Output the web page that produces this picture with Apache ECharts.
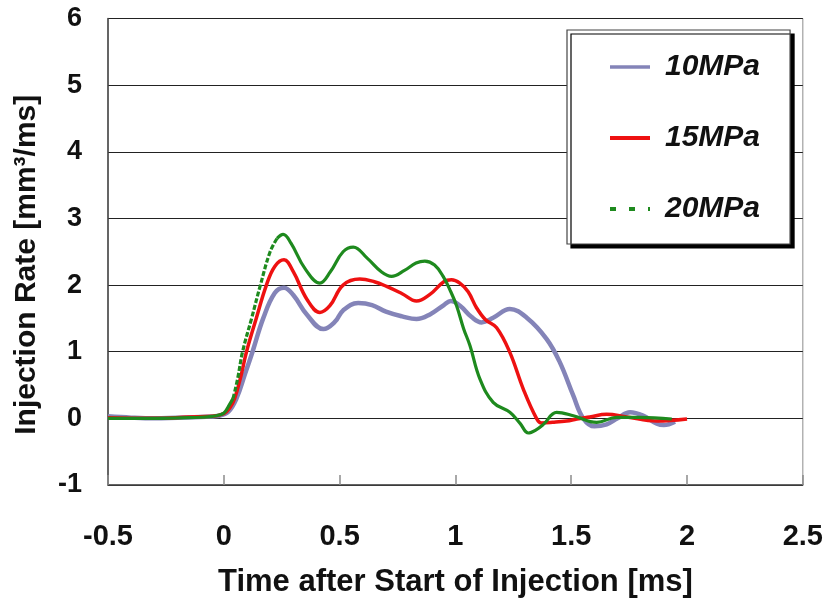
<!DOCTYPE html>
<html>
<head>
<meta charset="utf-8">
<script src="https://cdn.jsdelivr.net/npm/echarts@6/dist/echarts.min.js"></script>
<style>html,body{margin:0;padding:0;background:#fff}#c{width:826px;height:604px}</style>
</head>
<body>
<div id="c"></div>
<script>
var seriesNames = ['10MPa', '15MPa', '20MPa'];
var xTicks = [-0.5, 0, 0.5, 1, 1.5, 2, 2.5];
var yTicks = [-1, 0, 1, 2, 3, 4, 5, 6];

var data10 = [[-0.5,0.03],[-0.4,0.01],[-0.3,0.0],[-0.2,0.01],[-0.1,0.02],[-0.02,0.04],[0.02,0.1],[0.055,0.3],[0.09,0.65],[0.124,1.0],[0.17,1.5],[0.22,1.88],[0.26,1.96],[0.3,1.85],[0.36,1.55],[0.43,1.34],[0.48,1.45],[0.515,1.62],[0.58,1.73],[0.64,1.70],[0.7,1.60],[0.77,1.53],[0.832,1.49],[0.89,1.56],[0.95,1.70],[0.98,1.76],[1.02,1.69],[1.07,1.52],[1.113,1.44],[1.163,1.51],[1.235,1.64],[1.308,1.51],[1.394,1.19],[1.451,0.84],[1.509,0.34],[1.552,0.0],[1.6,-0.12],[1.653,-0.09],[1.7,0.0],[1.754,0.09],[1.81,0.04],[1.87,-0.08],[1.9,-0.1],[1.948,-0.05]];

var data15 = [[-0.5,0.01],[-0.3,0.0],[-0.15,0.02],[-0.05,0.03],[0.0,0.07],[0.025,0.15],[0.047,0.3],[0.075,0.65],[0.098,1.0],[0.14,1.5],[0.184,2.0],[0.22,2.28],[0.26,2.38],[0.3,2.2],[0.36,1.78],[0.415,1.59],[0.458,1.69],[0.515,2.0],[0.587,2.09],[0.65,2.05],[0.703,1.98],[0.77,1.87],[0.832,1.76],[0.89,1.86],[0.95,2.05],[0.983,2.08],[1.019,2.03],[1.055,1.9],[1.091,1.66],[1.13,1.48],[1.178,1.36],[1.235,0.99],[1.293,0.44],[1.35,0.0],[1.372,-0.07],[1.42,-0.06],[1.48,-0.04],[1.524,-0.01],[1.58,0.02],[1.653,0.06],[1.74,0.02],[1.869,-0.04],[2.0,-0.01]];

var data20 = [[-0.5,0.0],[-0.3,0.0],[-0.15,0.01],[-0.05,0.03],[0.0,0.08],[0.02,0.18],[0.04,0.3],[0.06,0.6],[0.081,1.0],[0.12,1.5],[0.158,2.0],[0.2,2.5],[0.23,2.7],[0.256,2.76],[0.29,2.63],[0.35,2.25],[0.415,2.03],[0.46,2.2],[0.515,2.5],[0.559,2.57],[0.62,2.4],[0.68,2.2],[0.724,2.13],[0.78,2.22],[0.83,2.33],[0.868,2.36],[0.91,2.3],[0.947,2.13],[0.98,1.9],[1.005,1.69],[1.035,1.35],[1.063,1.09],[1.106,0.59],[1.163,0.24],[1.235,0.09],[1.28,-0.08],[1.315,-0.22],[1.345,-0.18],[1.38,-0.09],[1.437,0.09],[1.509,0.04],[1.61,-0.06],[1.696,0.015],[1.797,0.015],[1.934,-0.01]];

// part of the 20MPa rising edge drawn dashed in the original
var dashFrom = 0.04, dashTo = 0.23;
var data20Solid = data20.map(function (p) { return (p[0] > dashFrom && p[0] < dashTo) ? [p[0], null] : p; });
var data20Dash = data20.filter(function (p) { return p[0] >= dashFrom && p[0] <= dashTo; });

var FONT = 'Arial, "Liberation Sans", sans-serif';
var c10 = '#8484b8', c15 = '#ee1111', c20 = '#1e8a1e';

var chart = echarts.init(document.getElementById('c'), null, {renderer: 'canvas'});
chart.setOption({
  animation: false,
  backgroundColor: '#fff',
  grid: {left: 108, right: 23, top: 18.5, bottom: 119, show: true, borderColor: '#8c8c8c', borderWidth: 1},
  xAxis: {
    type: 'value', min: xTicks[0], max: xTicks[xTicks.length - 1], interval: 0.5,
    name: 'Time after Start of Injection [ms]', nameLocation: 'middle', nameGap: 82,
    nameTextStyle: {fontFamily: FONT, fontWeight: 'bold', fontSize: 31, color: '#111'},
    axisLine: {show: true, onZero: false, lineStyle: {color: '#444', width: 1.5}},
    axisTick: {show: true, inside: true, length: 10, lineStyle: {color: '#8c8c8c', width: 1.5}},
    axisLabel: {margin: 37, fontFamily: FONT, fontWeight: 'bold', fontSize: 29, color: '#111'},
    splitLine: {show: false}
  },
  yAxis: {
    type: 'value', min: yTicks[0], max: yTicks[yTicks.length - 1], interval: 1,
    name: 'Injection Rate [mm³/ms]', nameLocation: 'middle', nameGap: 66,
    nameTextStyle: {fontFamily: FONT, fontWeight: 'bold', fontSize: 30, color: '#111', padding: [0, 26, 0, 0]},
    axisLine: {show: true, onZero: false, lineStyle: {color: '#444', width: 1.5}},
    axisTick: {show: false},
    axisLabel: {margin: 26, fontFamily: FONT, fontWeight: 'bold', fontSize: 27, color: '#111'},
    splitLine: {show: true, lineStyle: {color: '#222', width: 1.2}}
  },
  legend: {
    orient: 'vertical', left: 567, top: 30,
    padding: [22, 30, 20, 41], itemGap: 41, itemWidth: 40, itemHeight: 12,
    backgroundColor: '#fff', borderColor: '#444', borderWidth: 1.2,
    shadowColor: '#000', shadowBlur: 0, shadowOffsetX: 4, shadowOffsetY: 4,
    itemStyle: {opacity: 0},
    textStyle: {fontFamily: FONT, fontWeight: 'bold', fontStyle: 'italic', fontSize: 30, color: '#111', lineHeight: 30, padding: [0, 0, 0, 10]},
    data: [
      {name: seriesNames[0], lineStyle: {width: 3.5}},
      {name: seriesNames[1], lineStyle: {width: 4}},
      {name: seriesNames[2], lineStyle: {type: [6, 13], width: 4}}
    ]
  },
  series: [
    {name: seriesNames[0], type: 'line', data: data10, smooth: 0.4, showSymbol: false, symbol: 'none',
     lineStyle: {color: c10, width: 4.5}, itemStyle: {color: c10}, z: 2},
    {name: seriesNames[1], type: 'line', data: data15, smooth: 0.4, showSymbol: false, symbol: 'none',
     lineStyle: {color: c15, width: 3.5}, itemStyle: {color: c15}, z: 3},
    {name: seriesNames[2], type: 'line', data: data20Solid, smooth: 0.4, showSymbol: false, symbol: 'none',
     connectNulls: false, lineStyle: {color: c20, width: 3.2}, itemStyle: {color: c20}, z: 4},
    {name: seriesNames[2], type: 'line', data: data20Dash, smooth: 0.4, showSymbol: false, symbol: 'none',
     lineStyle: {color: c20, width: 3.2, type: [5, 2]}, itemStyle: {color: c20}, z: 4}
  ]
});
</script>
</body>
</html>
